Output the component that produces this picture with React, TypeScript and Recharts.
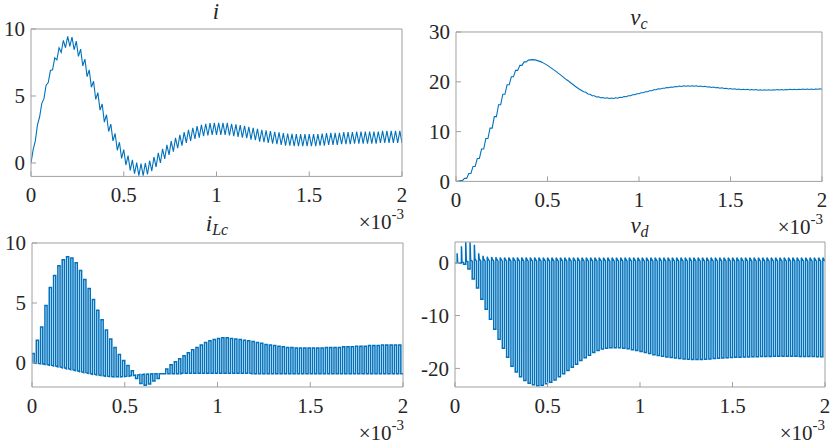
import React from 'react';
import { LineChart, Line, XAxis, YAxis } from 'recharts';

// switching cycles visible in the 0..2 ms window
const CYCLES = 86;
const PERIOD = 2 / CYCLES; // ms
const X_TICKS = [0, 0.5, 1, 1.5, 2];

// i : valley at the start of each cycle, peak at mid-cycle
const iValley = [
  0, 1.65, 3.45, 4.8, 6.0, 6.95, 7.7, 8.25, 8.6, 8.7,
  8.45, 7.95, 7.25, 6.45, 5.65, 4.75, 3.95, 3.05, 2.35, 1.65,
  0.95, 0.35, -0.15, -0.55, -0.8, -0.95, -0.95, -0.85, -0.6, -0.3,
  0.0, 0.3, 0.6, 0.85, 1.1, 1.3, 1.5, 1.65, 1.8, 1.9,
  2.0, 2.05, 2.1, 2.1, 2.1, 2.1, 2.05, 2.0, 1.95, 1.9,
  1.85, 1.75, 1.7, 1.6, 1.55, 1.5, 1.45, 1.4, 1.35, 1.3,
  1.3, 1.25, 1.25, 1.25, 1.25, 1.25, 1.25, 1.3, 1.3, 1.35,
  1.35, 1.35, 1.4, 1.4, 1.4, 1.45, 1.45, 1.45, 1.45, 1.45,
  1.45, 1.5, 1.5, 1.5, 1.5, 1.5, 1.5,
];
const iPeak = [
  1.0, 2.85, 4.45, 5.8, 6.9, 7.85, 8.6, 9.15, 9.45, 9.4,
  9.1, 8.5, 7.75, 6.95, 6.1, 5.25, 4.4, 3.6, 2.9, 2.2,
  1.55, 1.0, 0.55, 0.23, 0.03, -0.05, 0.0, 0.17, 0.45, 0.75,
  1.05, 1.35, 1.63, 1.88, 2.1, 2.3, 2.48, 2.63, 2.75, 2.85,
  2.93, 2.98, 3.0, 3.0, 3.0, 3.0, 2.93, 2.88, 2.83, 2.78,
  2.7, 2.63, 2.55, 2.48, 2.43, 2.38, 2.33, 2.28, 2.23, 2.2,
  2.18, 2.15, 2.15, 2.15, 2.15, 2.15, 2.15, 2.2, 2.23, 2.25,
  2.25, 2.25, 2.3, 2.3, 2.3, 2.35, 2.35, 2.35, 2.35, 2.35,
  2.35, 2.4, 2.4, 2.4, 2.4, 2.4,
];

// v_c : value at cycle start and at mid-cycle
const vcStart = [
  0, 0.15, 0.6, 1.6, 3.0, 4.6, 6.5, 8.6, 10.7, 13.0,
  15.4, 17.5, 19.4, 21.0, 22.3, 23.3, 24.0, 24.35, 24.45, 24.3,
  24.0, 23.55, 23.0, 22.4, 21.75, 21.1, 20.4, 19.75, 19.1, 18.5,
  18.0, 17.55, 17.2, 16.95, 16.8, 16.7, 16.65, 16.65, 16.7, 16.85,
  17.0, 17.2, 17.4, 17.6, 17.8, 18.0, 18.2, 18.4, 18.55, 18.7,
  18.8, 18.9, 19.0, 19.05, 19.1, 19.1, 19.1, 19.05, 19.0, 18.95,
  18.85, 18.8, 18.7, 18.65, 18.55, 18.5, 18.45, 18.4, 18.4, 18.35,
  18.35, 18.3, 18.3, 18.3, 18.3, 18.35, 18.35, 18.35, 18.4, 18.4,
  18.4, 18.45, 18.45, 18.45, 18.45, 18.5, 18.5,
];
const vcMid = [
  0, 0.15, 0.6, 1.6, 3.0, 4.6, 6.5, 8.6, 10.7, 13.0,
  15.4, 17.5, 19.4, 21.0, 22.3, 23.3, 24.0, 24.4, 24.4, 24.15,
  23.8, 23.3, 22.7, 22.1, 21.45, 20.75, 20.1, 19.45, 18.8, 18.25,
  17.9, 17.5, 17.2, 17.0, 16.85, 16.8, 16.75, 16.8, 16.9, 17.05,
  17.2, 17.4, 17.6, 17.8, 18.0, 18.2, 18.4, 18.6, 18.7, 18.85,
  18.95, 19.05, 19.15, 19.2, 19.2, 19.2, 19.2, 19.15, 19.1, 19.0,
  18.95, 18.85, 18.8, 18.7, 18.65, 18.6, 18.55, 18.5, 18.5, 18.45,
  18.45, 18.4, 18.4, 18.4, 18.4, 18.45, 18.45, 18.45, 18.5, 18.5,
  18.5, 18.55, 18.55, 18.55, 18.55, 18.6,
];

// i_Lc : on-state level and off-state level of each cycle
const ilcTop = [
  0.8, 1.9, 3.0, 4.8, 6.3, 7.3, 8.1, 8.6, 8.85, 8.75,
  8.35, 7.7, 6.95, 6.2, 5.3, 4.4, 3.6, 2.75, 2.0, 1.3,
  0.7, 0.2, -0.2, -0.65, -1.3, -1.7, -1.85, -1.75, -1.5, -1.3,
  -0.9, -0.5, -0.15, 0.1, 0.35, 0.6, 0.85, 1.1, 1.3, 1.5,
  1.7, 1.85, 1.95, 2.05, 2.1, 2.1, 2.05, 2.0, 1.95, 1.9,
  1.85, 1.8, 1.7, 1.65, 1.55, 1.5, 1.45, 1.4, 1.35, 1.3,
  1.3, 1.25, 1.25, 1.25, 1.25, 1.25, 1.25, 1.25, 1.3, 1.3,
  1.3, 1.3, 1.35, 1.35, 1.35, 1.4, 1.4, 1.4, 1.45, 1.45,
  1.45, 1.5, 1.5, 1.5, 1.5, 1.5,
];
const ilcBottom = [
  0, -0.03, -0.07, -0.12, -0.18, -0.25, -0.32, -0.4, -0.48, -0.56,
  -0.64, -0.72, -0.8, -0.87, -0.94, -1.0, -1.05, -1.1, -1.13, -1.15,
  -1.15, -1.13, -1.1, -1.05, -1.0, -0.96, -0.93, -0.92, -0.9, -0.9,
  -0.9, -0.9, -0.9, -0.9, -0.9, -0.85, -0.85, -0.85, -0.85, -0.85,
  -0.85, -0.85, -0.85, -0.85, -0.85, -0.85, -0.85, -0.85, -0.85, -0.85,
  -0.85, -0.9, -0.9, -0.9, -0.9, -0.9, -0.9, -0.9, -0.9, -0.9,
  -0.9, -0.9, -0.9, -0.9, -0.9, -0.9, -0.9, -0.9, -0.9, -0.9,
  -0.9, -0.9, -0.9, -0.9, -0.9, -0.9, -0.9, -0.9, -0.9, -0.9,
  -0.9, -0.9, -0.9, -0.9, -0.9, -0.9,
];

// v_d : negative pulse level, overshoot, then the level after it
const vdLow = [
  0, -0.05, -0.3, -1.2, -3.1, -4.8, -6.9, -8.8, -10.7, -12.6,
  -14.5, -16.2, -17.9, -19.6, -20.7, -21.6, -22.3, -22.8, -23.1, -23.3,
  -23.2, -22.9, -22.6, -22.2, -21.6, -21.0, -20.4, -19.8, -19.2, -18.5,
  -18.0, -17.5, -17.0, -16.6, -16.35, -16.2, -16.1, -16.1, -16.1, -16.2,
  -16.3, -16.45, -16.6, -16.8, -17.0, -17.2, -17.4, -17.55, -17.7, -17.85,
  -17.95, -18.05, -18.15, -18.2, -18.25, -18.3, -18.3, -18.3, -18.25, -18.2,
  -18.15, -18.1, -18.05, -18.0, -17.95, -17.9, -17.9, -17.85, -17.85, -17.8,
  -17.8, -17.75, -17.75, -17.75, -17.7, -17.7, -17.7, -17.7, -17.7, -17.7,
  -17.75, -17.75, -17.75, -17.75, -17.8, -17.8,
];
const vdSpike = [
  1.8, 3.1, 3.9, 3.85, 3.4, 1.8, 1.3, 1.15, 1.1, 1.05,
  1.0, 1.0, 1.0, 1.0, 1.0, 1.0, 1.0, 1.0, 1.0, 1.0,
  0.95, 0.95, 0.95, 0.95, 0.95, 0.95, 0.95, 0.95, 0.95, 0.95,
  0.95, 0.95, 0.95, 0.95, 0.95, 0.95, 0.95, 0.95, 0.95, 0.95,
  0.95, 0.95, 0.95, 0.95, 0.95, 0.95, 0.95, 0.95, 0.95, 0.95,
  0.95, 0.95, 0.95, 0.95, 0.95, 0.95, 0.95, 0.95, 0.95, 0.95,
  0.95, 0.95, 0.95, 0.95, 0.95, 0.95, 0.95, 0.95, 0.95, 0.95,
  0.95, 0.95, 0.95, 0.95, 0.95, 0.95, 0.95, 0.95, 0.95, 0.95,
  0.95, 0.95, 0.95, 0.95, 0.95, 0.95,
];
const vdHigh = [
  0, 0.1, 0.3, 0.5, 0.75, 0.75, 0.75, 0.75, 0.75, 0.75,
  0.75, 0.75, 0.75, 0.75, 0.75, 0.75, 0.75, 0.75, 0.75, 0.75,
  0.75, 0.75, 0.75, 0.75, 0.75, 0.75, 0.75, 0.75, 0.75, 0.75,
  0.75, 0.75, 0.75, 0.75, 0.75, 0.75, 0.75, 0.75, 0.75, 0.75,
  0.75, 0.75, 0.75, 0.75, 0.75, 0.75, 0.75, 0.75, 0.75, 0.75,
  0.75, 0.75, 0.75, 0.75, 0.75, 0.75, 0.75, 0.75, 0.75, 0.75,
  0.75, 0.75, 0.75, 0.75, 0.75, 0.75, 0.75, 0.75, 0.75, 0.75,
  0.75, 0.75, 0.75, 0.75, 0.75, 0.75, 0.75, 0.75, 0.75, 0.75,
  0.75, 0.75, 0.75, 0.75, 0.75, 0.75,
];
const vdHighEnd = [
  0, 0.05, 0.2, 0.3, 0.3, 0.3, 0.3, 0.3, 0.3, 0.3,
  0.3, 0.3, 0.3, 0.3, 0.3, 0.3, 0.3, 0.3, 0.3, 0.3,
  0.3, 0.3, 0.3, 0.3, 0.3, 0.3, 0.3, 0.3, 0.3, 0.3,
  0.3, 0.3, 0.3, 0.3, 0.3, 0.3, 0.3, 0.3, 0.3, 0.3,
  0.3, 0.3, 0.3, 0.3, 0.3, 0.3, 0.3, 0.3, 0.3, 0.3,
  0.3, 0.3, 0.3, 0.3, 0.3, 0.3, 0.3, 0.3, 0.3, 0.3,
  0.3, 0.3, 0.3, 0.3, 0.3, 0.3, 0.3, 0.3, 0.3, 0.3,
  0.3, 0.3, 0.3, 0.3, 0.3, 0.3, 0.3, 0.3, 0.3, 0.3,
  0.3, 0.3, 0.3, 0.3, 0.3, 0.3,
];

type Row = { t: number; v: number };

const iData: Row[] = [];
const vcData: Row[] = [];
const ilcData: Row[] = [];
const vdData: Row[] = [];
for (let k = 0; k < CYCLES; k++) {
  const t0 = k * PERIOD;
  const tm = t0 + PERIOD / 2;
  iData.push({ t: t0, v: iValley[k] }, { t: tm, v: iPeak[k] });
  vcData.push({ t: t0, v: vcStart[k] }, { t: tm, v: vcMid[k] });
  ilcData.push(
    { t: t0, v: ilcBottom[k] },
    { t: t0, v: ilcTop[k] },
    { t: tm, v: ilcTop[k] },
    { t: tm, v: ilcBottom[k] },
  );
  vdData.push(
    { t: t0, v: vdLow[k] },
    { t: tm, v: vdLow[k] },
    { t: tm, v: vdSpike[k] },
    { t: t0 + (PERIOD * 5) / 8, v: vdHigh[k] },
    { t: t0 + PERIOD, v: vdHighEnd[k] },
  );
}
iData.push({ t: 2, v: iValley[CYCLES] });
vcData.push({ t: 2, v: vcStart[CYCLES] });
ilcData.push({ t: 2, v: ilcBottom[CYCLES - 1] });

const BLUE = '#0072BD';
const AXIS = '#a0a0a0';
const INK = '#262626';
const FONT = '"Liberation Serif", "Times New Roman", Times, "DejaVu Serif", serif';

type Box = { x: number; y: number; w: number; h: number };
// outer margins; axis sizes are added on top of these
const M = { top: 11, right: 15, bottom: 14, left: 8 };
const X_H = 30; // bottom axis band
const Y_W = 50; // left axis band

function Panel({
  box,
  data,
  yDomain,
  yTicks,
  lineWidth,
}: {
  box: Box;
  data: Row[];
  yDomain: [number, number];
  yTicks: number[];
  lineWidth: number;
}) {
  const tickStyle = { fill: INK, fontSize: 21, style: { fontFamily: FONT } };
  const line = { stroke: AXIS, strokeWidth: 1 };
  const left = M.left + Y_W;
  const top = M.top + 1;
  return (
    <div style={{ position: 'absolute', left: box.x - left, top: box.y - top }}>
      <LineChart
        width={box.w + left + M.right + 1}
        height={box.h + top + M.bottom + X_H}
        data={data}
        margin={M}
      >
        <XAxis
          xAxisId="b"
          dataKey="t"
          type="number"
          domain={[0, 2]}
          allowDataOverflow
          ticks={X_TICKS}
          interval={0}
          height={X_H}
          tickSize={-5}
          tickMargin={16}
          tick={tickStyle}
          axisLine={line}
          tickLine={line}
        />
        <XAxis
          xAxisId="t"
          orientation="top"
          dataKey="t"
          type="number"
          domain={[0, 2]}
          allowDataOverflow
          ticks={X_TICKS}
          interval={0}
          height={1}
          tickSize={-5}
          tick={false}
          axisLine={line}
          tickLine={line}
        />
        <YAxis
          yAxisId="l"
          type="number"
          domain={yDomain}
          allowDataOverflow
          ticks={yTicks}
          interval={0}
          width={Y_W}
          tickSize={-5}
          tickMargin={11}
          tick={tickStyle}
          axisLine={line}
          tickLine={line}
        />
        <YAxis
          yAxisId="r"
          orientation="right"
          type="number"
          domain={yDomain}
          allowDataOverflow
          ticks={yTicks}
          interval={0}
          width={1}
          tickSize={-5}
          tick={false}
          axisLine={line}
          tickLine={line}
        />
        <Line
          xAxisId="b"
          yAxisId="l"
          dataKey="v"
          type="linear"
          stroke={BLUE}
          strokeWidth={lineWidth}
          dot={false}
          isAnimationActive={false}
        />
      </LineChart>
    </div>
  );
}

function Exponent({ x, y }: { x: number; y: number }) {
  return (
    <text x={x} y={y} textAnchor="end" fontSize={21} fill={INK} style={{ fontFamily: FONT }}>
      ×10
      <tspan dy={-10} fontSize={15}>
        -3
      </tspan>
    </text>
  );
}

const titleProps = {
  textAnchor: 'middle' as const,
  fontSize: 23,
  fill: INK,
  style: { fontFamily: FONT, fontStyle: 'italic' },
};

export default function App() {
  const tl = { x: 30.7, y: 29.3, w: 371, h: 147.4 };
  const tr = { x: 456.3, y: 32.3, w: 366, h: 149.4 };
  const bl = { x: 31.7, y: 243, w: 371, h: 144 };
  const br = { x: 454.5, y: 242.3, w: 370, h: 145 };
  return (
    <div
      style={{
        position: 'absolute',
        left: 0,
        top: 0,
        width: 830,
        height: 446,
        background: '#fff',
        overflow: 'hidden',
        fontFamily: FONT,
      }}
    >
      <Panel box={tl} data={iData} yDomain={[-1, 10]} yTicks={[0, 5, 10]} lineWidth={1.1} />
      <Panel box={tr} data={vcData} yDomain={[0, 30]} yTicks={[0, 10, 20, 30]} lineWidth={1.1} />
      <Panel box={bl} data={ilcData} yDomain={[-2, 10]} yTicks={[0, 5, 10]} lineWidth={1.5} />
      <Panel
        box={br}
        data={vdData}
        yDomain={[-23.52, 3.92]}
        yTicks={[-20, -10, 0]}
        lineWidth={1.5}
      />
      <svg
        width={830}
        height={446}
        style={{ position: 'absolute', left: 0, top: 0, pointerEvents: 'none' }}
      >
        <text x={216} y={19} {...titleProps}>
          i
        </text>
        <text x={639} y={25} {...titleProps}>
          v
          <tspan dy={4} fontSize={16}>
            c
          </tspan>
        </text>
        <text x={217} y={231} {...titleProps}>
          i
          <tspan dy={4} fontSize={16}>
            Lc
          </tspan>
        </text>
        <text x={639.5} y={233} {...titleProps}>
          v
          <tspan dy={4} fontSize={16}>
            d
          </tspan>
        </text>
        <Exponent x={404} y={229} />
        <Exponent x={823} y={234} />
        <Exponent x={404} y={440} />
        <Exponent x={825} y={440} />
      </svg>
    </div>
  );
}
